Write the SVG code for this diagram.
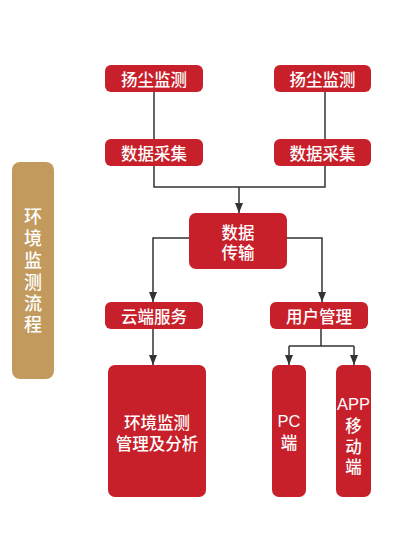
<svg xmlns="http://www.w3.org/2000/svg" width="400" height="560" viewBox="0 0 400 560">
<style>
.box{fill:#c7202a}
.t{fill:#fff;font-family:"Liberation Sans","Noto Sans CJK SC",sans-serif;font-size:16.5px;font-weight:500;text-anchor:middle;dominant-baseline:central}
.sl{font-size:18px}
.side{fill:#c39a5e}
.ln{fill:none;stroke:#333;stroke-width:1.5}
</style>
<defs>
<marker id="ah" viewBox="0 0 10 8" refX="10" refY="4" markerWidth="10" markerHeight="8" markerUnits="userSpaceOnUse" orient="auto">
<path d="M0,0 L10,4 L0,8 Z" fill="#333"/>
</marker>
</defs>
<rect width="400" height="560" fill="#fff"/>
<g id="side-label">
<rect class="side" x="12" y="162" width="42" height="217" rx="8"/>
<text class="t sl" x="33" y="216"><tspan x="33" y="216.5">环</tspan><tspan x="33" y="238.5">境</tspan><tspan x="33" y="260.5">监</tspan><tspan x="33" y="282.5">测</tspan><tspan x="33" y="303.5">流</tspan><tspan x="33" y="324.5">程</tspan></text>
</g>
<g id="connectors">
<path class="ln" d="M154,92 V139"/>
<path class="ln" d="M325,92 V139"/>
<path class="ln" d="M154,166 V187 H325 V166"/>
<path class="ln" d="M239,187 V213" marker-end="url(#ah)"/>
<path class="ln" d="M189,238 H153 V302" marker-end="url(#ah)"/>
<path class="ln" d="M287,238 H322 V302" marker-end="url(#ah)"/>
<path class="ln" d="M153,329 V365" marker-end="url(#ah)"/>
<path class="ln" d="M321,329 V346"/>
<path class="ln" d="M289,346 H354"/>
<path class="ln" d="M289,346 V365" marker-end="url(#ah)"/>
<path class="ln" d="M354,346 V365" marker-end="url(#ah)"/>
</g>
<g id="dust1">
<rect class="box" x="105" y="65" width="98" height="27" rx="6"/>
<text class="t" x="154" y="80">扬尘监测</text>
</g>
<g id="dust2">
<rect class="box" x="274" y="65" width="97" height="27" rx="6"/>
<text class="t" x="322.5" y="80">扬尘监测</text>
</g>
<g id="collect1">
<rect class="box" x="105" y="139" width="98" height="27" rx="6"/>
<text class="t" x="154" y="154">数据采集</text>
</g>
<g id="collect2">
<rect class="box" x="274" y="139" width="97" height="27" rx="6"/>
<text class="t" x="322.5" y="154">数据采集</text>
</g>
<g id="transfer">
<rect class="box" x="189" y="213" width="98" height="56" rx="7"/>
<text class="t" x="238" y="232"><tspan x="238" y="232.5">数据</tspan><tspan x="238" y="252.5">传输</tspan></text>
</g>
<g id="cloud">
<rect class="box" x="105" y="302" width="98" height="27" rx="6"/>
<text class="t" x="154" y="317">云端服务</text>
</g>
<g id="user">
<rect class="box" x="270" y="302" width="98" height="27" rx="6"/>
<text class="t" x="319" y="317">用户管理</text>
</g>
<g id="analysis">
<rect class="box" x="108" y="365" width="98" height="132" rx="7"/>
<text class="t" x="157" y="422"><tspan x="157" y="422.5">环境监测</tspan><tspan x="157" y="443.5">管理及分析</tspan></text>
</g>
<g id="pc">
<rect class="box" x="272" y="365" width="34" height="132" rx="7"/>
<text class="t" x="289" y="420"><tspan x="289" y="420.5">PC</tspan><tspan x="289" y="442.5">端</tspan></text>
</g>
<g id="app">
<rect class="box" x="336" y="365" width="35" height="132" rx="7"/>
<text class="t" x="353.5" y="403"><tspan x="353.5" y="403.5">APP</tspan><tspan x="353.5" y="425.5">移</tspan><tspan x="353.5" y="446.5">动</tspan><tspan x="353.5" y="466.5">端</tspan></text>
</g>
</svg>
